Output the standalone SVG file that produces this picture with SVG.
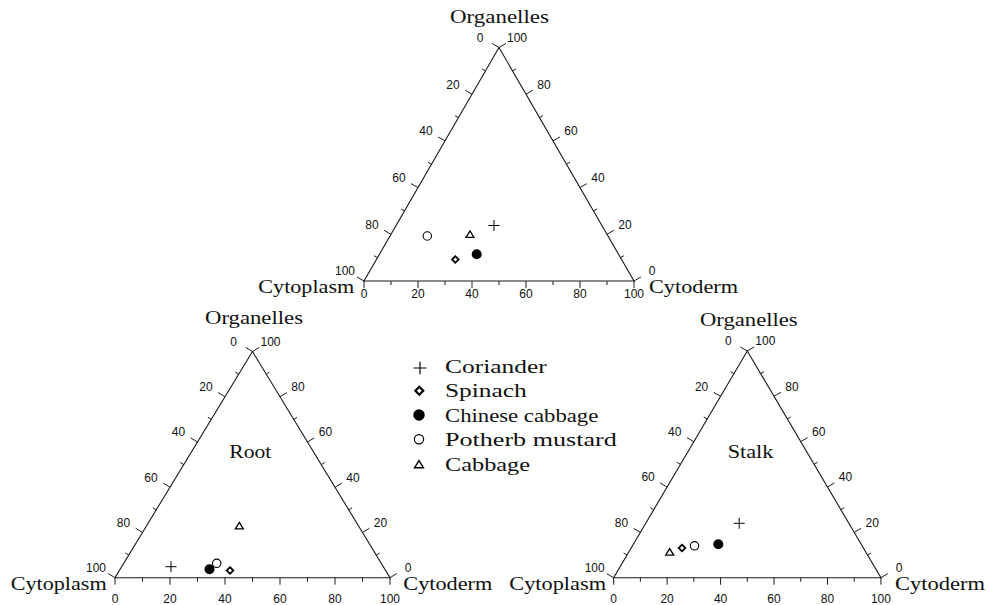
<svg xmlns="http://www.w3.org/2000/svg" xmlns:xlink="http://www.w3.org/1999/xlink" width="988" height="605" viewBox="0 0 988 605">
<style>
.ax{fill:none;stroke:#1a1a1a;stroke-width:1.1}
.tk{fill:none;stroke:#1a1a1a;stroke-width:1}
.num{font-family:"Liberation Sans",Arial,sans-serif;font-size:12px;fill:#111;text-anchor:middle}
.ttl{font-family:"Liberation Serif","Times New Roman",serif;font-size:18px;fill:#111}
.leg{font-family:"Liberation Serif","Times New Roman",serif;font-size:19px;fill:#111}
</style>
<defs>
<path id="sym-plus" d="M-5.5,0H5.5M0,-5.5V5.5" stroke="#000" stroke-width="1" fill="none"/>
<polygon id="sym-diamond" points="0,-3.3 3.3,0 0,3.3 -3.3,0" fill="#fff" stroke="#000" stroke-width="1.8"/>
<circle id="sym-open" r="4.2" fill="#fff" stroke="#000" stroke-width="1.1"/>
<circle id="sym-filled" r="5" fill="#000"/>
<polygon id="sym-tri" points="0,-3.4 4,3.1 -4,3.1" fill="none" stroke="#000" stroke-width="1.3"/>
</defs>
<rect width="988" height="605" fill="#fff"/>

<g id="top-diagram">
<path class="ax" d="M499,47.5L364,281H634Z"/>
<path class="tk" d="M499,47.5l-6.9,-4 M485.5,70.85l-3.5,-2 M472,94.2l-6.9,-4 M458.5,117.55l-3.5,-2 M445,140.9l-6.9,-4 M431.5,164.25l-3.5,-2 M418,187.6l-6.9,-4 M404.5,210.95l-3.5,-2 M391,234.3l-6.9,-4 M377.5,257.65l-3.5,-2 M364,281l-6.9,-4 M499,47.5l6.9,-4 M512.5,70.85l3.5,-2 M526,94.2l6.9,-4 M539.5,117.55l3.5,-2 M553,140.9l6.9,-4 M566.5,164.25l3.5,-2 M580,187.6l6.9,-4 M593.5,210.95l3.5,-2 M607,234.3l6.9,-4 M620.5,257.65l3.5,-2 M634,281l6.9,-4 M364,281v7 M391,281v4 M418,281v7 M445,281v4 M472,281v7 M499,281v4 M526,281v7 M553,281v4 M580,281v7 M607,281v4 M634,281v7"/>
<text class="num" x="480" y="41.8">0</text><text class="num" x="453" y="88.5">20</text><text class="num" x="426" y="135.2">40</text><text class="num" x="399" y="181.9">60</text><text class="num" x="372" y="228.6">80</text><text class="num" x="345" y="275.3">100</text>
<text class="num" x="517" y="41.8">100</text><text class="num" x="544" y="88.5">80</text><text class="num" x="571" y="135.2">60</text><text class="num" x="598" y="181.9">40</text><text class="num" x="625" y="228.6">20</text><text class="num" x="652" y="275.3">0</text>
<text class="num" x="364" y="297.6">0</text><text class="num" x="418" y="297.6">20</text><text class="num" x="472" y="297.6">40</text><text class="num" x="526" y="297.6">60</text><text class="num" x="580" y="297.6">80</text><text class="num" x="634" y="297.6">100</text>
<text class="ttl" x="450" y="22.7" textLength="99" lengthAdjust="spacingAndGlyphs">Organelles</text>
<text class="ttl" x="258.3" y="293.3" textLength="96" lengthAdjust="spacingAndGlyphs">Cytoplasm</text>
<text class="ttl" x="649" y="293.3" textLength="89" lengthAdjust="spacingAndGlyphs">Cytoderm</text>
<use xlink:href="#sym-open" x="427.3" y="236"/>
<use xlink:href="#sym-tri" x="470" y="234.3"/>
<use xlink:href="#sym-plus" x="494" y="225.5"/>
<use xlink:href="#sym-diamond" x="455.3" y="259.5"/>
<use xlink:href="#sym-filled" x="476.7" y="254.2"/>
</g>

<g id="root-diagram">
<path class="ax" d="M252.5,351.5L115,577.7H390Z"/>
<path class="tk" d="M252.5,351.5l-6.84,-4.16 M238.75,374.12l-3.42,-2.08 M225,396.74l-6.84,-4.16 M211.25,419.36l-3.42,-2.08 M197.5,441.98l-6.84,-4.16 M183.75,464.6l-3.42,-2.08 M170,487.22l-6.84,-4.16 M156.25,509.84l-3.42,-2.08 M142.5,532.46l-6.84,-4.16 M128.75,555.08l-3.42,-2.08 M115,577.7l-6.84,-4.16 M252.5,351.5l6.84,-4.16 M266.25,374.12l3.42,-2.08 M280,396.74l6.84,-4.16 M293.75,419.36l3.42,-2.08 M307.5,441.98l6.84,-4.16 M321.25,464.6l3.42,-2.08 M335,487.22l6.84,-4.16 M348.75,509.84l3.42,-2.08 M362.5,532.46l6.84,-4.16 M376.25,555.08l3.42,-2.08 M390,577.7l6.84,-4.16 M115,577.7v7 M142.5,577.7v4 M170,577.7v7 M197.5,577.7v4 M225,577.7v7 M252.5,577.7v4 M280,577.7v7 M307.5,577.7v4 M335,577.7v7 M362.5,577.7v4 M390,577.7v7"/>
<text class="num" x="233.5" y="345.8">0</text><text class="num" x="206" y="391">20</text><text class="num" x="178.5" y="436.3">40</text><text class="num" x="151" y="481.5">60</text><text class="num" x="123.5" y="526.8">80</text><text class="num" x="96" y="572">100</text>
<text class="num" x="270.5" y="345.8">100</text><text class="num" x="298" y="391">80</text><text class="num" x="325.5" y="436.3">60</text><text class="num" x="353" y="481.5">40</text><text class="num" x="380.5" y="526.8">20</text><text class="num" x="408" y="572">0</text>
<text class="num" x="115" y="602.6">0</text><text class="num" x="170" y="602.6">20</text><text class="num" x="225" y="602.6">40</text><text class="num" x="280" y="602.6">60</text><text class="num" x="335" y="602.6">80</text><text class="num" x="390" y="602.6">100</text>
<text class="ttl" x="205" y="324.3" textLength="98" lengthAdjust="spacingAndGlyphs">Organelles</text>
<text class="ttl" x="10.7" y="590" textLength="96" lengthAdjust="spacingAndGlyphs">Cytoplasm</text>
<text class="ttl" x="403.3" y="590" textLength="89" lengthAdjust="spacingAndGlyphs">Cytoderm</text>
<text class="ttl" x="229.3" y="458.3" textLength="42" lengthAdjust="spacingAndGlyphs">Root</text>
<use xlink:href="#sym-tri" x="239.3" y="525.8"/>
<use xlink:href="#sym-plus" x="171" y="566.7"/>
<use xlink:href="#sym-filled" x="209.5" y="569.3"/>
<use xlink:href="#sym-open" x="216.7" y="563.3"/>
<use xlink:href="#sym-diamond" x="230" y="570.5"/>
</g>

<g id="stalk-diagram">
<path class="ax" d="M747.3,351L613.65,577.7H880.95Z"/>
<path class="tk" d="M747.3,351l-6.9,-4.06 M733.94,373.67l-3.45,-2.03 M720.57,396.34l-6.9,-4.06 M707.2,419.01l-3.45,-2.03 M693.84,441.68l-6.9,-4.06 M680.48,464.35l-3.45,-2.03 M667.11,487.02l-6.9,-4.06 M653.75,509.69l-3.45,-2.03 M640.38,532.36l-6.9,-4.06 M627.02,555.03l-3.45,-2.03 M613.65,577.7l-6.9,-4.06 M747.3,351l6.9,-4.06 M760.67,373.67l3.45,-2.03 M774.03,396.34l6.9,-4.06 M787.4,419.01l3.45,-2.03 M800.76,441.68l6.9,-4.06 M814.13,464.35l3.45,-2.03 M827.49,487.02l6.9,-4.06 M840.86,509.69l3.45,-2.03 M854.22,532.36l6.9,-4.06 M867.59,555.03l3.45,-2.03 M880.95,577.7l6.9,-4.06 M613.65,577.7v7 M640.38,577.7v4 M667.11,577.7v7 M693.84,577.7v4 M720.57,577.7v7 M747.3,577.7v4 M774.03,577.7v7 M800.76,577.7v4 M827.49,577.7v7 M854.22,577.7v4 M880.95,577.7v7"/>
<text class="num" x="728.3" y="345.3">0</text><text class="num" x="701.6" y="390.6">20</text><text class="num" x="674.8" y="436">40</text><text class="num" x="648.1" y="481.3">60</text><text class="num" x="621.4" y="526.7">80</text><text class="num" x="594.7" y="572">100</text>
<text class="num" x="765.3" y="345.3">100</text><text class="num" x="792" y="390.6">80</text><text class="num" x="818.8" y="436">60</text><text class="num" x="845.5" y="481.3">40</text><text class="num" x="872.2" y="526.7">20</text><text class="num" x="899" y="572">0</text>
<text class="num" x="613.65" y="602.6">0</text><text class="num" x="667.11" y="602.6">20</text><text class="num" x="720.57" y="602.6">40</text><text class="num" x="774.03" y="602.6">60</text><text class="num" x="827.49" y="602.6">80</text><text class="num" x="880.95" y="602.6">100</text>
<text class="ttl" x="700" y="325.5" textLength="97.7" lengthAdjust="spacingAndGlyphs">Organelles</text>
<text class="ttl" x="509.3" y="590" textLength="96.7" lengthAdjust="spacingAndGlyphs">Cytoplasm</text>
<text class="ttl" x="895" y="590" textLength="90" lengthAdjust="spacingAndGlyphs">Cytoderm</text>
<text class="ttl" x="727.7" y="457.7" textLength="45.6" lengthAdjust="spacingAndGlyphs">Stalk</text>
<use xlink:href="#sym-plus" x="739.2" y="523.3"/>
<use xlink:href="#sym-filled" x="718.3" y="544.3"/>
<use xlink:href="#sym-open" x="694.5" y="545.8"/>
<use xlink:href="#sym-diamond" x="682" y="548"/>
<use xlink:href="#sym-tri" x="669.7" y="552"/>
</g>

<g id="legend">
<g transform="translate(420,368) scale(1.15)"><use xlink:href="#sym-plus"/></g>
<g transform="translate(419.3,390.7) scale(1.2)"><use xlink:href="#sym-diamond"/></g>
<g transform="translate(419,415) scale(1.15)"><use xlink:href="#sym-filled"/></g>
<g transform="translate(419,439.3) scale(1.1)"><use xlink:href="#sym-open"/></g>
<g transform="translate(419,464.3) scale(1.1)"><use xlink:href="#sym-tri"/></g>
<text class="leg" x="445" y="372.7" textLength="101.7" lengthAdjust="spacingAndGlyphs">Coriander</text>
<text class="leg" x="445" y="397.2" textLength="81.7" lengthAdjust="spacingAndGlyphs">Spinach</text>
<text class="leg" x="445" y="421.7" textLength="153.3" lengthAdjust="spacingAndGlyphs">Chinese cabbage</text>
<text class="leg" x="445" y="446.2" textLength="171.7" lengthAdjust="spacingAndGlyphs">Potherb mustard</text>
<text class="leg" x="445" y="470.7" textLength="85" lengthAdjust="spacingAndGlyphs">Cabbage</text>
</g>
</svg>
